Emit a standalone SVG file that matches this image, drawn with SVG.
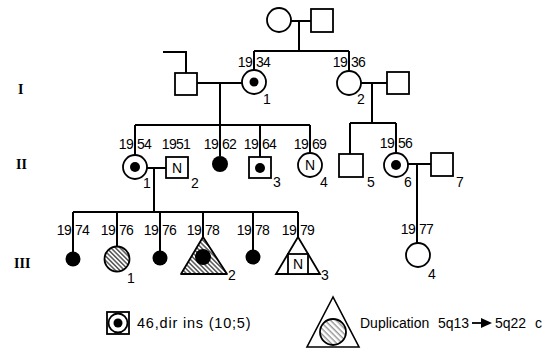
<svg xmlns="http://www.w3.org/2000/svg" width="543" height="353" viewBox="0 0 543 353">
<style>
.s{fill:#fff;stroke:#000;stroke-width:1.8}
.f{fill:#000}
.c{fill:none;stroke:#000;stroke-width:2}
text{font-family:"Liberation Sans",Arial,sans-serif;font-size:14px;fill:#000;letter-spacing:-0.7px}
.r{font-family:"Liberation Serif","Times New Roman",serif;font-size:14px;font-weight:bold;letter-spacing:0}
.e{text-anchor:end}
.m{text-anchor:middle}
.lg{font-size:14.5px;letter-spacing:0.8px}
.lg2{font-size:14px;letter-spacing:0}
</style>
<defs>
<pattern id="h" width="3.2" height="3.2" patternUnits="userSpaceOnUse" patternTransform="rotate(45)"><line x1="0" y1="0.8" x2="3.2" y2="0.8" stroke="#000" stroke-width="1"/></pattern>
<pattern id="h2" width="4" height="4" patternUnits="userSpaceOnUse" patternTransform="rotate(45)"><line x1="0" y1="0.8" x2="4" y2="0.8" stroke="#000" stroke-width="0.6"/></pattern>
</defs>

<g id="connectors">
<path class="c" d="M291 21H311M299 21V51M254 51H349M254 51V70M349 51V71"/>
<path class="c" d="M163 52H186V73M197 83H242M220 83V125M361 83H387M372 83V123"/>
<path class="c" d="M135 125H310M135 125V155M220 125V156M260 125V157M310 125V153"/>
<path class="c" d="M350 123H396M350 123V154M396 123V153M408 164H431M417 164V243"/>
<path class="c" d="M147 168H166M154 168V212"/>
<path class="c" d="M73 212H298M73 212V252M117 212V247M160 212V251M203 212V238M253 212V250M298 212V254"/>
</g>

<g id="gen-labels">
<text class="r" x="18" y="94">I</text>
<text class="r" x="16" y="169">II</text>
<text class="r" x="14" y="268">III</text>
</g>

<g id="top-mother"><circle class="s" cx="279" cy="20" r="12"/></g>
<g id="top-father"><rect class="s" x="311" y="9" width="22" height="23"/></g>

<g id="I-spouse1"><rect class="s" x="175" y="73" width="22" height="22"/></g>
<g id="I-1"><circle class="s" cx="254" cy="82" r="12"/><circle class="f" cx="254" cy="82" r="4.5"/>
<text class="e" x="252" y="67">19</text><text x="256" y="67">34</text><text x="263" y="104">1</text></g>
<g id="I-2"><circle class="s" cx="349" cy="83" r="12"/>
<text class="e" x="347" y="67">19</text><text x="351" y="67">36</text><text x="357" y="104">2</text></g>
<g id="I-spouse2"><rect class="s" x="387" y="72" width="22" height="22"/></g>

<g id="II-1"><circle class="s" cx="135" cy="167" r="12"/><circle class="f" cx="135" cy="167" r="5"/>
<text class="e" x="133" y="149">19</text><text x="137" y="149">54</text><text x="143" y="188">1</text></g>
<g id="II-2"><rect class="s" x="166" y="157" width="22" height="21"/><text class="m" x="177" y="173" style="letter-spacing:0">N</text>
<text class="m" x="176" y="149">1951</text><text x="191" y="188">2</text></g>
<g id="II-1962"><circle class="f" cx="220" cy="164" r="8"/>
<text class="e" x="218" y="149">19</text><text x="222" y="149">62</text></g>
<g id="II-3"><rect class="s" x="249" y="157" width="22" height="21"/><circle class="f" cx="260" cy="168" r="5"/>
<text class="e" x="258" y="149">19</text><text x="262" y="149">64</text><text x="273" y="187">3</text></g>
<g id="II-4"><circle class="s" cx="310" cy="165" r="12"/><text class="m" x="310" y="170" style="letter-spacing:0">N</text>
<text class="e" x="308" y="149">19</text><text x="312" y="149">69</text><text x="320" y="187">4</text></g>
<g id="II-5"><rect class="s" x="339" y="154" width="24" height="23"/><text x="367" y="187">5</text></g>
<g id="II-6"><circle class="s" cx="396" cy="165" r="12"/><circle class="f" cx="396" cy="165" r="5"/>
<text class="e" x="394" y="148">19</text><text x="398" y="148">56</text><text x="404" y="187">6</text></g>
<g id="II-7"><rect class="s" x="431" y="153" width="22" height="23"/><text x="456" y="187">7</text></g>

<g id="III-1974"><circle class="f" cx="73" cy="259" r="7.5"/>
<text class="e" x="71" y="235">19</text><text x="75" y="235">74</text></g>
<g id="III-1"><circle cx="117" cy="259" r="12.5" fill="url(#h)" stroke="#000" stroke-width="1.8"/>
<text class="e" x="115" y="235">19</text><text x="119" y="235">76</text><text x="127" y="283">1</text></g>
<g id="III-1976b"><circle class="f" cx="160" cy="258" r="7.5"/>
<text class="e" x="158" y="235">19</text><text x="162" y="235">76</text></g>
<g id="III-2"><polygon points="203,237 181,274 227,274" fill="url(#h)" stroke="#000" stroke-width="1.8" stroke-linejoin="round"/><circle class="f" cx="203" cy="257" r="8"/>
<text class="e" x="201" y="235">19</text><text x="205" y="235">78</text><text x="228" y="280">2</text></g>
<g id="III-1978b"><circle class="f" cx="253" cy="257" r="7.5"/>
<text class="e" x="251" y="235">19</text><text x="255" y="235">78</text></g>
<g id="III-3"><polygon class="s" points="298,237 276,274 320,274" fill="none"/><rect class="s" x="288" y="254" width="20" height="20"/><text class="m" x="298" y="269" style="letter-spacing:0">N</text>
<text class="e" x="296" y="235">19</text><text x="300" y="235">79</text><text x="321" y="280">3</text></g>
<g id="III-4"><circle class="s" cx="418" cy="255" r="12"/>
<text class="e" x="415" y="234">19</text><text x="419" y="234">77</text><text x="428" y="279">4</text></g>

<g id="legend-carrier"><rect class="s" x="107" y="312" width="22" height="22"/><circle class="s" cx="118" cy="323" r="9.5"/><circle class="f" cx="118" cy="323" r="4.5"/>
<text class="lg" x="137" y="328">46,dir ins (10;5)</text></g>
<g id="legend-dup"><polygon points="333,297 307,347 359,347" fill="#fff" stroke="#000" stroke-width="1.6"/><circle cx="333" cy="332" r="13" fill="url(#h2)" stroke="#000" stroke-width="1.8"/>
<text class="lg2" x="360" y="328">Duplication</text><text class="lg2" x="438" y="328">5q13</text>
<path d="M472 323H483" stroke="#000" stroke-width="1.8"/><polygon points="481,318 492,323 481,328" fill="#000"/>
<text class="lg2" x="495" y="328">5q22</text><text class="lg2" x="535" y="328">c</text></g>
</svg>
